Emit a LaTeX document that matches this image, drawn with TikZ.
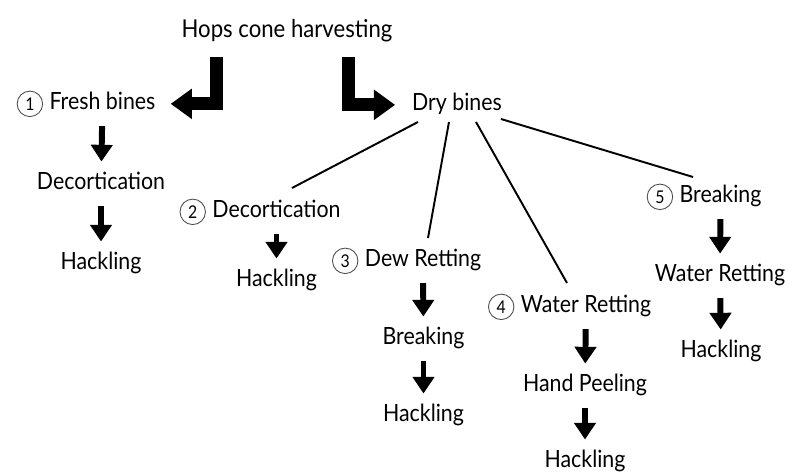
\documentclass[tikz,border=0pt]{standalone}
\usepackage{fontspec}
\setmainfont[FakeStretch=0.9]{Lato}
\usetikzlibrary{arrows.meta,positioning,calc}

\begin{document}
\begin{tikzpicture}[x=0.02cm,y=-0.02cm,
  txt/.style={anchor=base,font=\fontsize{13.5}{16}\selectfont,text height=10pt,text depth=3pt,inner sep=2pt},
  num/.style={circle,draw=black!70,line width=0.5pt,inner sep=0pt,minimum size=14.5pt,font=\fontsize{10}{11}\selectfont},
  bigarrow/.style={line width=7.4pt,line join=miter,-{Triangle[width=16.5pt,length=12pt]}},
  smallarrow/.style={line width=3.4pt,-{Triangle[width=12pt,length=9.5pt]},shorten <=4pt,shorten >=4pt},
  branch/.style={line width=1.1pt}]
\useasboundingbox (0,0) rectangle (789,472);
\node[txt,font=\fontsize{14}{16}\selectfont] (hops) at (287,38) {Hops cone harvesting};
\node[txt] (fresh) at (102.5,110) {Fresh bines};
\node[txt] (decort1) at (101,190) {Decortication};
\node[txt] (hack1) at (101,270) {Hackling};
\node[txt] (dry) at (457,111) {Dry bines};
\node[txt] (decort2) at (276.5,218) {Decortication};
\node[txt] (hack2) at (276.5,287) {Hackling};
\node[txt] (dew) at (423,267) {Dew Retting};
\node[txt] (break3) at (423.5,345) {Breaking};
\node[txt] (hack3) at (423.5,422) {Hackling};
\node[txt] (water4) at (586,313) {Water Retting};
\node[txt] (hand) at (585,392) {Hand Peeling};
\node[txt] (hack4) at (585,468) {Hackling};
\node[txt] (break5) at (720.5,203) {Breaking};
\node[txt] (water5) at (720,282) {Water Retting};
\node[txt] (hack5) at (721,358) {Hackling};
\node[num,left=1.5pt of fresh] (n1) {1};
\node[num,left=1.5pt of decort2] (n2) {2};
\node[num,left=1.5pt of dew] (n3) {3};
\node[num,left=1.5pt of water4] (n4) {4};
\node[num,left=1.5pt of break5] (n5) {5};
\draw[bigarrow] ($(hops.base)+(-70.5,19)$) |- ([xshift=6.5pt]fresh.east);
\draw[bigarrow] ($(hops.base)+(61,19)$) |- ([xshift=-7.5pt]dry.west);
\draw[smallarrow] (fresh) -- (decort1);
\draw[smallarrow] (decort1) -- (hack1);
\draw[smallarrow] (decort2) -- (hack2);
\draw[smallarrow] (dew) -- (break3);
\draw[smallarrow] (break3) -- (hack3);
\draw[smallarrow] (water4) -- (hand);
\draw[smallarrow] (hand) -- (hack4);
\draw[smallarrow] (break5) -- (water5);
\draw[smallarrow] (water5) -- (hack5);
\draw[branch] ($(dry.base)+(-39,11)$) -- ($(decort2.base)+(15.5,-30)$);
\draw[branch] ($(dry.base)+(-8,11)$) -- ($(dew.base)+(5,-29)$);
\draw[branch] ($(dry.base)+(19,11)$) -- ($(water4.base)+(-19,-30)$);
\draw[branch] ($(dry.base)+(44,8)$) -- ($(break5.base)+(-27.5,-26)$);
\end{tikzpicture}
\end{document}
